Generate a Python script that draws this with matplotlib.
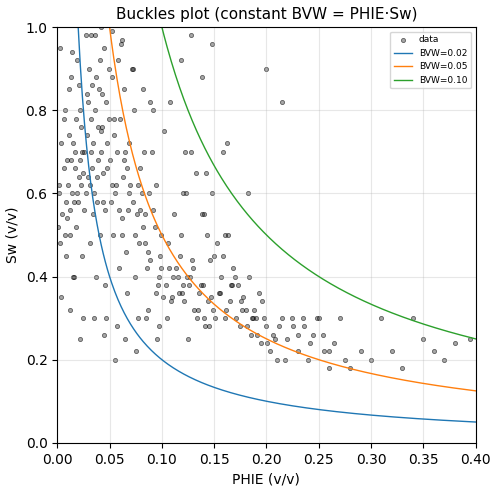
import matplotlib
matplotlib.use("Agg")
import matplotlib.pyplot as plt
import numpy as np

phie = [0.005,0.01,0.012,0.015,0.02,0.022,0.025,0.03,0.032,0.035,0.04,0.042,0.045,0.05,0.052,0.055,0.06,0.062,0.065,0.07,
        0.003,0.008,0.013,0.018,0.023,0.027,0.033,0.038,0.043,0.048,0.053,0.058,0.063,0.068,0.073,0.078,0.083,0.088,0.093,0.098,
        0.004,0.009,0.014,0.019,0.024,0.029,0.034,0.039,0.044,0.049,0.054,0.059,0.064,0.069,0.074,0.079,0.084,0.089,0.094,0.099,
        0.006,0.011,0.016,0.021,0.026,0.031,0.036,0.041,0.046,0.051,0.056,0.061,0.066,0.071,0.076,0.081,0.086,0.091,0.096,0.101,
        0.002,0.007,0.017,0.028,0.037,0.047,0.057,0.067,0.077,0.087,0.097,0.107,0.117,0.127,0.137,0.147,0.157,0.167,0.177,0.187,
        0.105,0.11,0.115,0.12,0.125,0.13,0.135,0.14,0.145,0.15,0.155,0.16,0.165,0.17,0.175,0.18,0.185,0.19,0.195,0.2,
        0.112,0.118,0.123,0.128,0.133,0.138,0.143,0.148,0.153,0.158,0.163,0.168,0.173,0.178,0.183,0.188,0.193,0.198,0.203,0.208,
        0.21,0.215,0.22,0.225,0.23,0.235,0.24,0.245,0.25,0.255,0.26,0.265,0.27,0.275,0.28,0.29,0.3,0.31,0.32,0.33,
        0.34,0.35,0.36,0.37,0.38,0.395,0.012,0.022,0.032,0.042,0.052,0.062,0.072,0.082,0.092,0.102,0.122,0.142,0.162,0.182,
        0.015,0.025,0.035,0.045,0.055,0.065,0.075,0.085,0.095,0.108,0.118,0.128,0.138,0.148,0.158,0.2,0.215,0.12,0.14,0.16,
        0.001,0.006,0.011,0.016,0.021,0.026,0.031,0.036,0.041,0.046,0.002,0.007,0.012,0.017,0.022,0.027,0.032,0.037,0.042,0.047,
        0.003,0.008,0.013,0.018,0.023,0.028,0.033,0.038,0.043,0.048,0.004,0.009,0.014,0.019,0.024,0.029,0.034,0.039,0.044,0.049,
        0.052,0.057,0.062,0.067,0.072,0.077,0.082,0.087,0.092,0.097,0.054,0.059,0.064,0.069,0.074,0.079,0.084,0.089,0.094,0.099,
        0.104,0.109,0.114,0.119,0.124,0.129,0.134,0.139,0.144,0.149,0.106,0.111,0.116,0.121,0.126,0.131,0.136,0.141,0.146,0.151,
        0.156,0.161,0.166,0.171,0.176,0.181,0.186,0.191,0.196,0.201,0.206,0.212,0.218,0.224,0.23,0.236,0.242,0.248,0.254,0.26]
sw = [0.55,0.62,0.5,0.72,0.58,0.8,0.65,0.9,0.7,0.6,0.85,0.75,0.95,0.68,0.88,0.6,0.78,0.5,0.7,0.62,
      0.95,0.45,0.88,0.52,0.76,0.98,0.66,0.58,0.84,0.72,0.5,0.92,0.64,0.56,0.8,0.48,0.7,0.6,0.52,0.45,
      0.35,0.68,0.6,0.92,0.45,0.82,0.55,0.76,0.65,0.9,0.78,0.42,0.85,0.72,0.4,0.66,0.55,0.82,0.62,0.5,
      0.78,0.85,0.4,0.64,0.56,0.48,0.98,0.5,0.38,0.58,0.62,0.96,0.46,0.9,0.55,0.6,0.42,0.7,0.38,0.35,
      0.6,0.5,0.7,0.84,0.4,0.3,0.28,0.36,0.3,0.32,0.28,0.42,0.45,0.4,0.38,0.35,0.4,0.38,0.32,0.3,
      0.3,0.35,0.4,0.38,0.25,0.42,0.32,0.3,0.28,0.45,0.36,0.3,0.34,0.4,0.28,0.32,0.26,0.3,0.24,0.28,
      0.55,0.5,0.6,0.7,0.65,0.55,0.5,0.6,0.48,0.45,0.5,0.42,0.38,0.35,0.4,0.32,0.36,0.3,0.22,0.25,
      0.2,0.3,0.25,0.28,0.22,0.3,0.2,0.26,0.3,0.22,0.18,0.24,0.3,0.2,0.18,0.22,0.2,0.3,0.22,0.18,
      0.3,0.25,0.22,0.2,0.24,0.25,0.32,0.25,0.98,1.0,0.99,0.97,0.9,0.85,0.8,0.75,0.7,0.65,0.72,0.6,
      0.4,0.3,0.3,0.26,0.2,0.25,0.22,0.3,0.25,0.82,0.92,0.98,0.88,0.96,0.7,0.9,0.82,0.6,0.55,0.5,
      0.52,0.66,0.74,0.58,0.86,0.7,0.62,0.8,0.92,0.56,0.62,0.8,0.56,0.66,0.68,0.6,0.78,0.88,0.7,0.82,
      0.48,0.58,0.68,0.78,0.62,0.74,0.86,0.64,0.76,0.66,0.72,0.54,0.94,0.6,0.7,0.64,0.72,0.68,0.58,0.78,
      0.62,0.7,0.54,0.66,0.58,0.62,0.52,0.46,0.56,0.4,0.74,0.56,0.68,0.6,0.5,0.56,0.48,0.44,0.36,0.42,
      0.38,0.34,0.42,0.36,0.4,0.44,0.3,0.38,0.34,0.32,0.48,0.4,0.36,0.34,0.38,0.32,0.36,0.28,0.44,0.3,
      0.36,0.32,0.38,0.3,0.34,0.28,0.3,0.26,0.34,0.24,0.26,0.28,0.2,0.3,0.26,0.28,0.24,0.3,0.26,0.22]

bvw = [0.02, 0.05, 0.10]
colors = ["#1f77b4", "#ff7f0e", "#2ca02c"]

fig, ax = plt.subplots(figsize=(4.98, 4.92), dpi=100)
ax.scatter(phie, sw, s=9, facecolors=(0, 0, 0, 0.35), edgecolors=(0, 0, 0, 0.55),
           linewidths=0.6, label="data")
x = np.linspace(0.001, 0.4, 400)
for b, c in zip(bvw, colors):
    ax.plot(x, b / x, color=c, lw=1, label=f"BVW={b:.2f}")
ax.set_xlim(0, 0.4)
ax.set_ylim(0, 1)
ax.set_xlabel("PHIE (v/v)")
ax.set_ylabel("Sw (v/v)")
ax.set_title("Buckles plot (constant BVW = PHIE·Sw)", fontsize=11)
ax.grid(True, alpha=0.3)
ax.legend(loc="upper right", fontsize=6.5)
fig.subplots_adjust(left=0.115, right=0.955, top=0.945, bottom=0.1)
fig.savefig("out.png")
